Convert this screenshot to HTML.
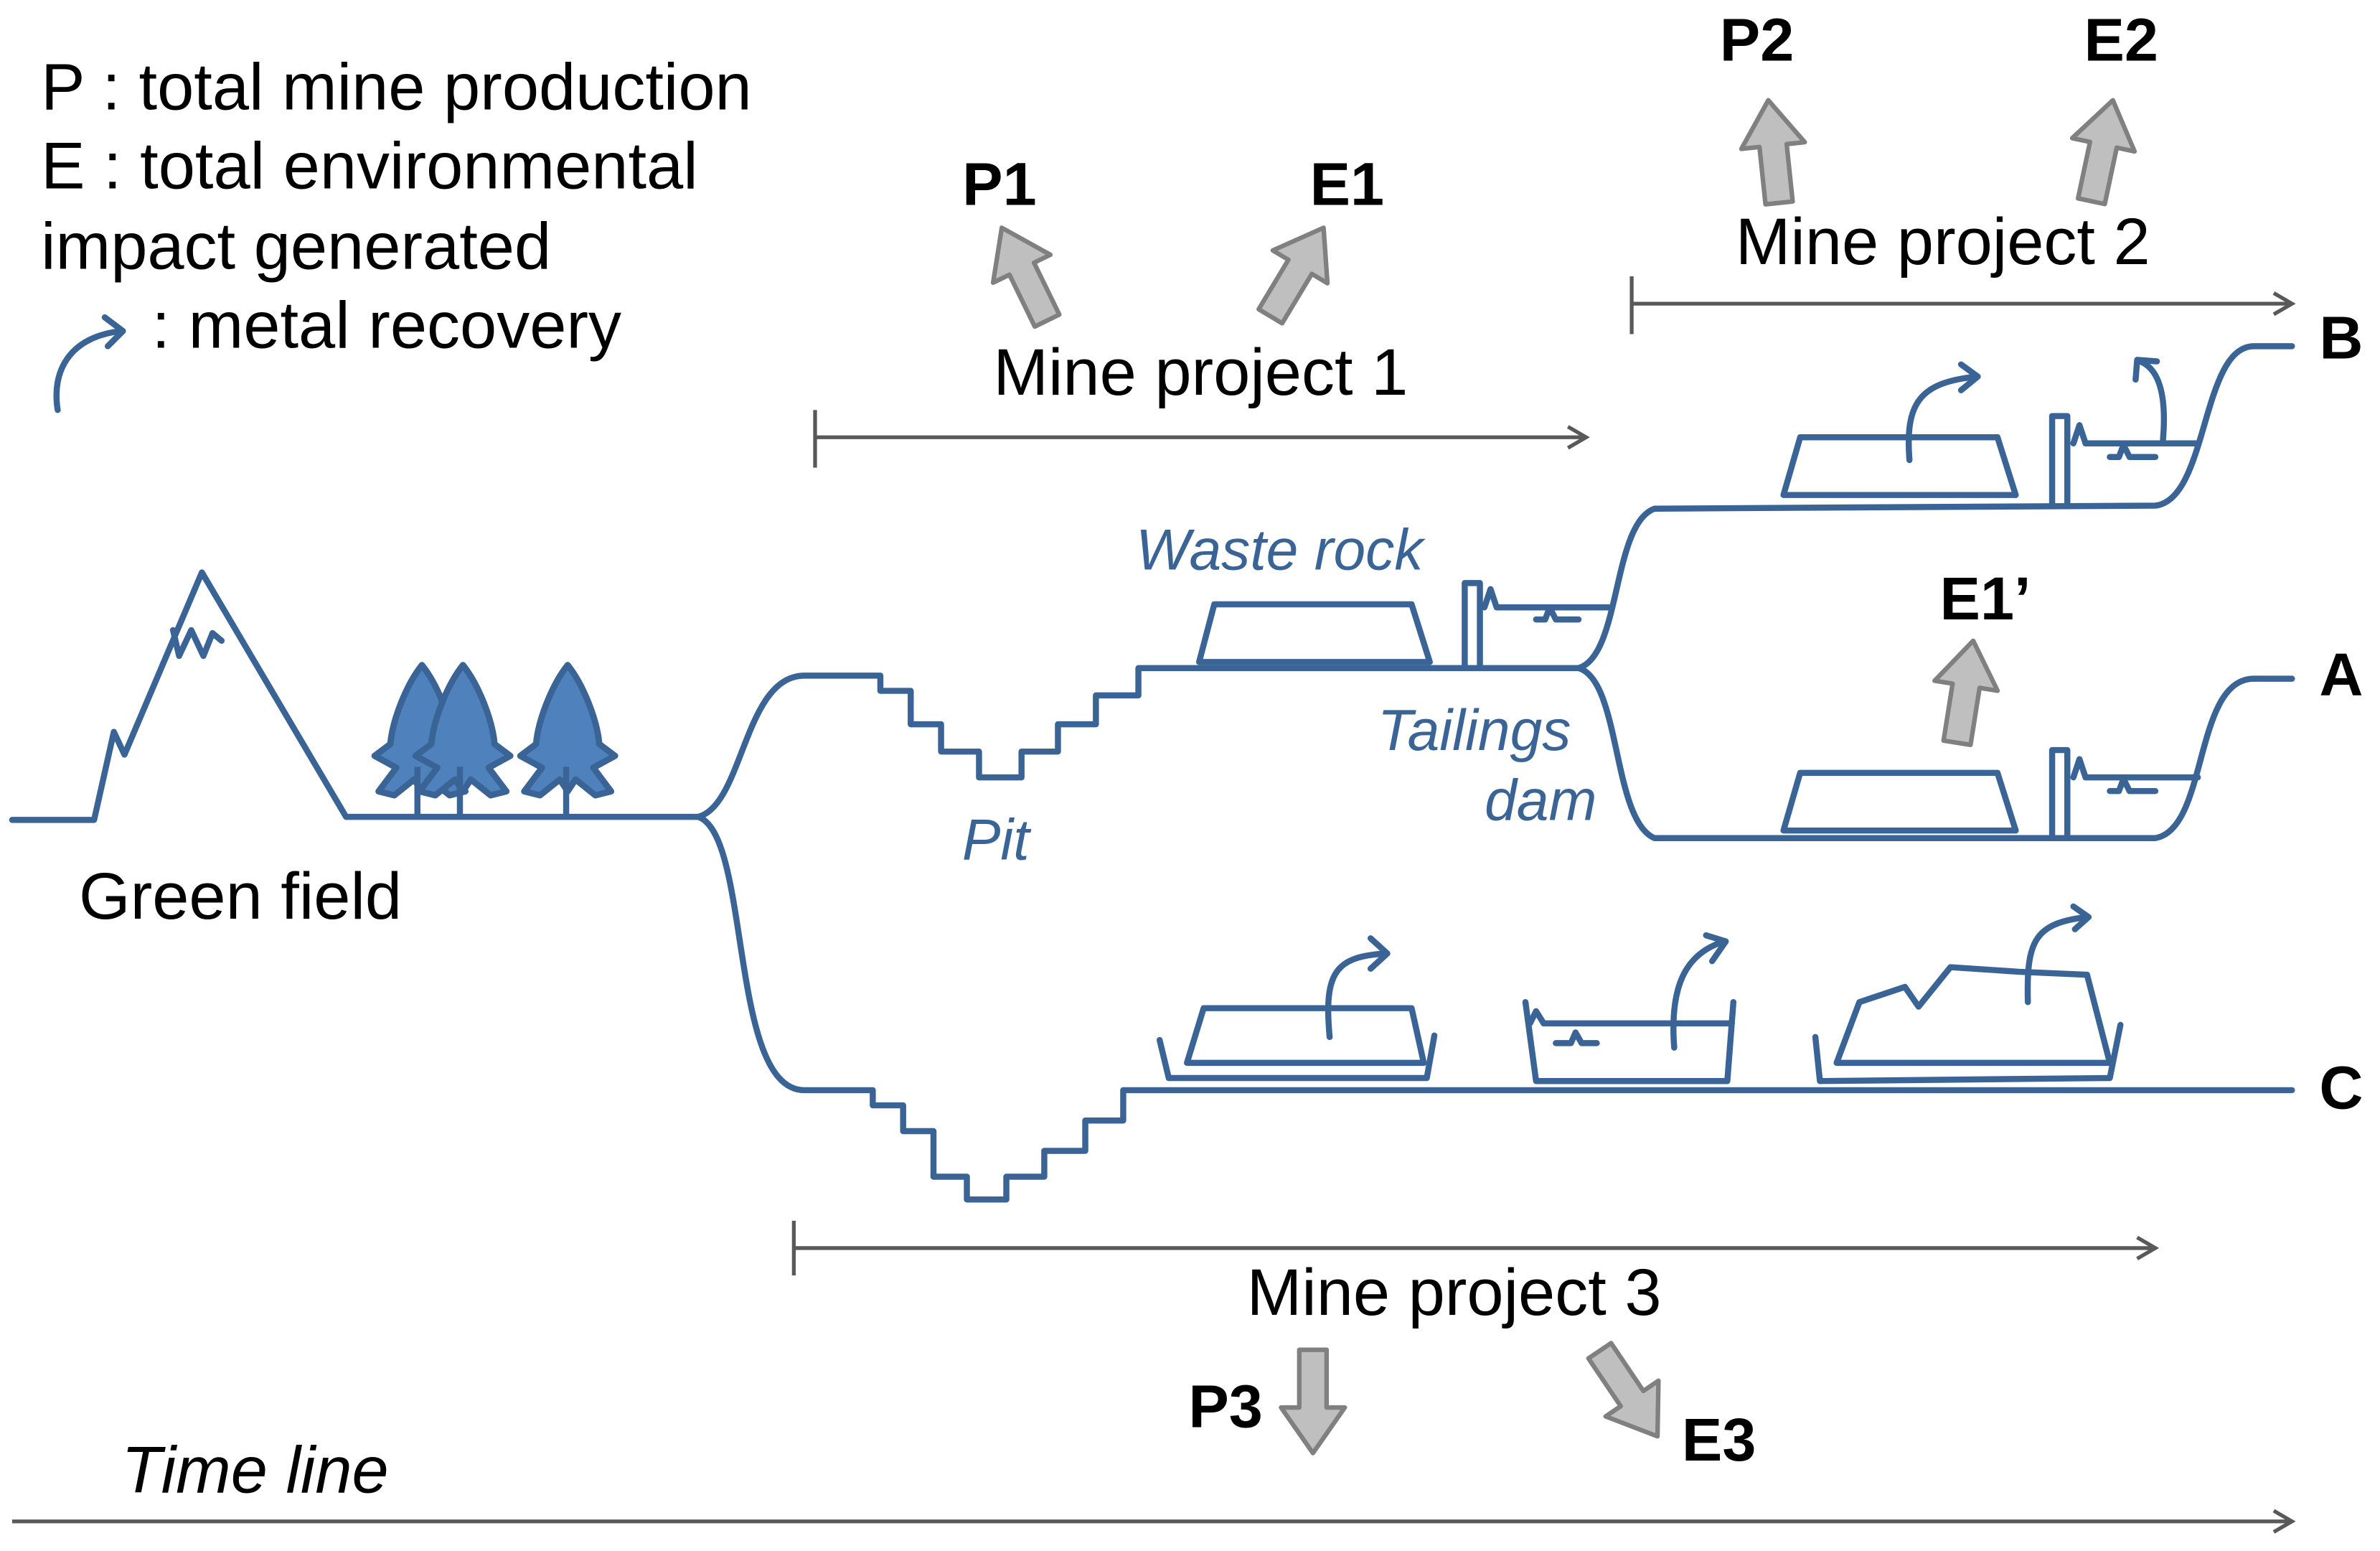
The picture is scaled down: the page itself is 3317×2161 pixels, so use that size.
<!DOCTYPE html>
<html><head><meta charset="utf-8"><style>html,body{margin:0;padding:0;background:#fff}svg{display:block}</style></head>
<body>
<svg width="3317" height="2161" viewBox="0 0 1568 1021.5" xmlns="http://www.w3.org/2000/svg" font-family="Liberation Sans, sans-serif">
<defs>
<path id="ga" d="M0,0 L21,30 L9,30 L9,68 L-9,68 L-9,30 L-21,30 Z" fill="#bfbfbf" stroke="#808080" stroke-width="3" stroke-linejoin="round"/>
<path id="tree" d="M0,0 C-8,10 -15,28 -16,40 L-24,46 L-13,52 L-22,64 L-14,66 L-4,58 L0,64 L4,58 L14,66 L22,64 L13,52 L24,46 L16,40 C15,28 8,10 0,0Z" fill="#4f81bd" stroke="#3a6496" stroke-width="3.2" stroke-linejoin="round"/>
</defs>
<g fill="none" stroke="#3a6496" stroke-width="4" stroke-linejoin="round" stroke-linecap="round">
<path d="M8,540 L62,540 L75,482 L82,497 L133,377 L228,538 L460,538"/>
<path d="M114,415 L118,432 L126,415 L134,432 L140,417 L146,422"/>
<path d="M460,538 C490,530 490,445 530,445 L580,445 L580,455 L600,455 L600,477 L620,477 L620,495 L645,495 L645,512 L673,512 L673,495 L697,495 L697,477 L722,477 L722,458 L750,458 L750,440 L1040,440"/>
<path d="M1040,440 C1068,432 1062,345 1090,335 L1420,333 C1455,329 1450,228 1485,228 L1510,228"/>
<path d="M1040,440 C1068,448 1062,540 1090,552 L1420,552 C1455,546 1445,447 1485,447 L1510,447"/>
<path d="M460,538 C495,550 480,718 530,718 L575,718 L575,728 L595,728 L595,745 L615,745 L615,775 L637,775 L637,790 L663,790 L663,775 L688,775 L688,758 L715,758 L715,738 L740,738 L740,718 L1510,718"/>
<path d="M800,398 L930,398 L942,436 L790,436 Z"/>
<path d="M965,440 L965,384 L975,384 L975,440"/>
<path d="M978,400 L982,388 L986,400 L1060,400"/>
<path d="M1012,408 L1018,408 L1021,400 L1025,408 L1040,408"/>
<path d="M1186,288 L1316,288 L1328,326 L1175,326 Z"/>
<path d="M1352,332 L1352,274 L1362,274 L1362,332"/>
<path d="M1366,292 L1370,280 L1374,292 L1448,292"/>
<path d="M1390,301 L1396,301 L1399,293 L1403,301 L1420,301"/>
<path d="M1258,303 C1255,265 1265,252 1302,248"/><path d="M1292,240 L1303,248 L1292,257"/>
<path d="M1425,290 C1428,255 1420,242 1410,238"/><path d="M1407,250 L1408,237 L1421,238"/>
<path d="M1186,509 L1316,509 L1328,547 L1175,547 Z"/>
<path d="M1352,552 L1352,494 L1362,494 L1362,552"/>
<path d="M1366,512 L1370,500 L1374,512 L1448,512"/>
<path d="M1390,521 L1396,521 L1399,513 L1403,521 L1420,521"/>
<path d="M764,685 L770,710 L940,710 L945,682"/>
<path d="M793,664 L930,664 L938,700 L782,700 Z"/>
<path d="M876,683 C872,640 880,630 913,628"/><path d="M903,618 L914,628 L903,638"/>
<path d="M1005,660 L1012,712 L1138,712 L1142,660"/>
<path d="M1008,674 L1012,666 L1017,674 L1141,674"/>
<path d="M1025,687 L1035,687 L1038,680 L1042,687 L1052,687"/>
<path d="M1103,690 C1100,650 1110,628 1136,620"/><path d="M1124,616 L1137,620 L1128,633"/>
<path d="M1196,683 L1199,712 L1390,710 L1397,675"/>
<path d="M1210,700 L1225,660 L1255,650 L1264,663 L1285,637 L1330,640 L1375,642 L1390,700 Z"/>
<path d="M1336,660 C1335,620 1340,608 1375,604"/><path d="M1366,597 L1376,604 L1367,612"/>
<path d="M38,270 C34,245 45,222 80,218"/><path d="M69,209 L81,218 L71,228"/>
</g>
<use href="#tree" transform="translate(278,438) scale(1.3)"/>
<use href="#tree" transform="translate(305,438) scale(1.3)"/>
<use href="#tree" transform="translate(374,438) scale(1.3)"/>
<g stroke="#3a6496" stroke-width="4"><path d="M275,538 V505 M303,538 V505 M373,538 V505"/></g>
<g stroke="#595959" stroke-width="2.5" fill="none">
<path d="M537,270 V308 M537,288 H1045 M1033,281 L1045,288 L1033,295"/>
<path d="M1075,182 V220 M1075,200 H1510 M1498,193 L1510,200 L1498,207"/>
<path d="M523,804 V840 M523,822 H1420 M1408,815 L1420,822 L1408,829"/>
<path d="M8,1002 H1510 M1498,995 L1510,1002 L1498,1009"/>
</g>
<use href="#ga" transform="translate(660,150) rotate(-26)"/>
<use href="#ga" transform="translate(872,150) rotate(31)"/>
<use href="#ga" transform="translate(1165,66) rotate(-6)"/>
<use href="#ga" transform="translate(1392,66) rotate(12)"/>
<use href="#ga" transform="translate(1300,422) rotate(9)"/>
<use href="#ga" transform="translate(865,957) rotate(180)"/>
<use href="#ga" transform="translate(1092,946) rotate(146)"/>
<g font-size="43.5" fill="#000">
<text x="27" y="72">P : total mine production</text>
<text x="27" y="124">E : total environmental</text>
<text x="27" y="177">impact generated</text>
<text x="100" y="229">: metal recovery</text>
<text x="52" y="605">Green field</text>
<text x="791" y="260" text-anchor="middle">Mine project 1</text>
<text x="1280" y="174" text-anchor="middle">Mine project 2</text>
<text x="958" y="866" text-anchor="middle">Mine project 3</text>
<text x="80" y="983" font-style="italic">Time line</text>
</g>
<g font-size="40" font-weight="bold" fill="#000">
<text x="634" y="135">P1</text>
<text x="863" y="135">E1</text>
<text x="1133" y="40">P2</text>
<text x="1373" y="40">E2</text>
<text x="1278" y="408">E1’</text>
<text x="783" y="940">P3</text>
<text x="1108" y="962">E3</text>
<text x="1528" y="458">A</text>
<text x="1528" y="236">B</text>
<text x="1528" y="730">C</text>
</g>
<g font-size="38" font-style="italic" fill="#3a6496">
<text x="843" y="375" text-anchor="middle">Waste rock</text>
<text x="1035" y="494" text-anchor="end">Tailings</text>
<text x="1052" y="540" text-anchor="end">dam</text>
<text x="656" y="566" text-anchor="middle">Pit</text>
</g>
</svg>
</body></html>
